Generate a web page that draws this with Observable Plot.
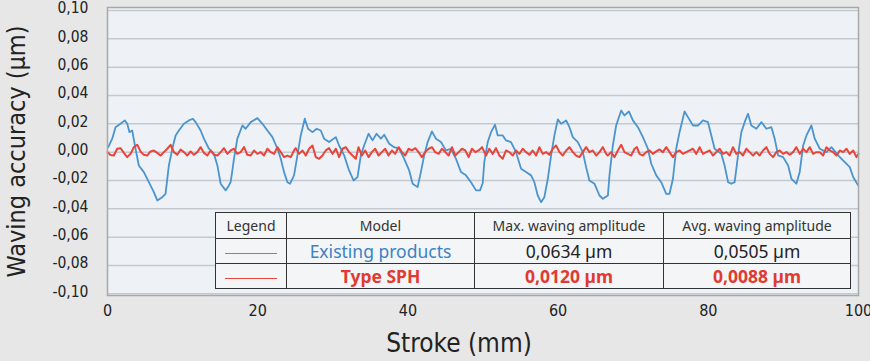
<!DOCTYPE html>
<html><head><meta charset="utf-8">
<script src="https://cdn.jsdelivr.net/npm/d3@7"></script>
<script src="https://cdn.jsdelivr.net/npm/@observablehq/plot@0.6"></script>
<style>
html,body{margin:0;padding:0;background:#e7e7e7;}
#wrap{position:relative;width:870px;height:361px;overflow:hidden;}
#leg{position:absolute;left:215px;top:212px;width:635px;border-collapse:collapse;table-layout:fixed;background:#f3f5f7;font-family:"Noto Sans",sans-serif;color:#222;}
#leg td{border:1.5px solid #333;text-align:center;padding:0;white-space:nowrap;overflow:hidden;}
#leg tr.h td{height:25px;font-size:14px;color:#333;}
#leg tr.r td{height:23px;font-size:17.5px;}
.sw{display:inline-block;width:52px;height:1.5px;vertical-align:middle;}
</style>
</head><body>
<div id="wrap"></div>
<script>
// ---- Data ----
const xTicks = [0, 20, 40, 60, 80, 100];
const yTicks = [-0.10, -0.08, -0.06, -0.04, -0.02, 0.00, 0.02, 0.04, 0.06, 0.08, 0.10];

const blueX = [0.1,0.63,1.07,1.73,2.31,2.63,2.93,3.29,3.73,4.17,4.84,5.51,6.17,6.63,7.29,7.73,8.17,8.63,9.07,9.51,10.17,10.84,11.37,11.73,12.4,12.84,13.51,14.17,14.63,15.07,15.73,16.17,16.4,16.63,16.84,17.29,17.96,18.4,19.07,19.96,20.63,21.29,21.96,22.63,23.07,23.51,23.96,24.31,24.84,25.29,25.73,26.27,26.71,27.29,27.87,28.4,28.84,29.51,30.4,30.84,31.51,32.17,32.76,33.29,33.73,34.17,34.76,35.29,35.83,36.4,36.84,37.51,38.17,38.84,39.51,40.17,40.63,41.29,41.73,42.17,42.63,43.2,43.73,44.4,45.07,45.73,46.4,47.07,47.73,48.4,49.07,49.6,49.96,50.17,50.63,51.07,51.6,51.96,52.63,53.07,53.73,54.4,55.07,55.73,56.4,56.84,57.29,57.73,58.17,58.63,59.07,59.51,59.96,60.4,61.07,61.51,61.96,62.63,63.29,63.73,64.17,64.84,65.51,65.96,66.63,66.84,67.29,67.73,68.4,68.84,69.43,69.96,70.63,71.29,71.96,72.4,73.07,73.73,74.4,74.84,75.29,75.73,76.17,76.84,77.29,77.96,78.63,79.29,79.96,80.4,80.84,81.73,82.17,82.63,83.07,83.51,83.96,84.4,84.93,85.29,85.73,86.4,87.07,87.73,88.4,88.84,89.29,89.96,90.63,91.07,91.73,92.17,92.63,93.07,93.73,94.17,94.84,95.73,96.4,97.29,98.17,98.84,99.29,99.96];
const blueY = [0.0035,0.0095,0.0176,0.020,0.0224,0.020,0.0141,0.0153,0.0024,-0.0094,-0.0141,-0.0212,-0.0282,-0.0341,-0.0318,-0.0294,-0.0094,0.0024,0.0118,0.0153,0.020,0.0224,0.0236,0.0212,0.0153,0.0095,0.0024,-0.0011,-0.0094,-0.0223,-0.027,-0.0235,-0.021,-0.0129,-0.0047,0.0095,0.0188,0.0165,0.0212,0.024,0.020,0.0153,0.0106,0.0024,-0.0047,-0.0141,-0.0212,-0.0223,-0.0164,-0.0023,0.0118,0.0236,0.0165,0.0141,0.0165,0.0153,0.0095,0.0071,0.0106,0.0047,-0.0023,-0.0129,-0.020,-0.0176,-0.0023,0.0047,0.013,0.0083,0.013,0.0095,0.0123,0.0059,0.0035,0.0024,-0.0047,-0.0129,-0.0223,-0.0247,-0.0141,-0.0023,0.0071,0.0146,0.0095,0.0071,0.0012,0.0024,-0.0047,-0.0141,-0.0164,-0.0212,-0.027,-0.027,-0.022,-0.0071,0.0071,0.0141,0.0193,0.0118,0.0118,0.0083,0.0071,0.0,-0.0117,-0.0141,-0.0164,-0.0212,-0.0306,-0.0353,-0.0318,-0.0188,-0.0023,0.0118,0.0231,0.020,0.0224,0.0176,0.0106,0.0071,0.0,-0.0106,-0.020,-0.0223,-0.0306,-0.0329,-0.0306,-0.0164,0.0047,0.0188,0.0294,0.0259,0.0287,0.0224,0.0176,0.0106,0.0024,-0.0082,-0.0164,-0.0212,-0.0294,-0.0294,-0.0188,0.0024,0.0141,0.0287,0.0247,0.0188,0.0188,0.0224,0.0212,0.0118,0.0024,-0.0011,-0.0094,-0.0212,-0.0223,-0.0212,-0.0023,0.0141,0.0224,0.0271,0.0188,0.0165,0.0212,0.0165,0.0176,0.0095,-0.0023,-0.0035,-0.0094,-0.0188,-0.0223,-0.0141,0.0047,0.0118,0.0188,0.0095,0.0024,0.0,0.0035,-0.0023,-0.0071,-0.0106,-0.0176,-0.0235];

const redX = [0,0.4,0.84,1.29,1.73,2.18,2.62,3.07,3.51,3.96,4.4,4.84,5.29,5.73,6.18,6.62,7.07,7.51,7.96,8.4,8.84,9.29,9.73,10.18,10.62,11.07,11.51,11.96,12.4,12.84,13.29,13.73,14.18,14.62,15.07,15.51,15.96,16.4,16.84,17.29,17.73,18.18,18.62,19.07,19.51,19.96,20.4,20.84,21.29,21.73,22.18,22.62,23.07,23.51,23.96,24.4,24.84,25.07,25.51,25.96,26.4,26.84,27.29,27.73,28.18,28.62,29.07,29.51,29.96,30.4,30.84,31.29,31.73,32.18,32.62,33.07,33.42,33.87,34.31,34.76,35.2,35.64,36.09,36.53,36.98,37.42,37.87,38.31,38.76,39.2,39.64,40.09,40.53,40.98,41.42,41.87,42.31,42.76,43.2,43.64,44.09,44.53,44.98,45.42,45.87,46.31,46.76,47.2,47.64,48.09,48.53,48.98,49.42,49.87,50.4,50.84,51.29,51.73,52.18,52.62,53.07,53.51,53.96,54.4,54.84,55.29,55.73,56.18,56.62,57.07,57.51,57.96,58.4,58.84,59.29,59.73,60.18,60.62,61.07,61.51,61.96,62.4,62.84,63.29,63.73,64.18,64.62,65.07,65.51,65.96,66.4,66.62,67.07,67.51,67.96,68.4,68.84,69.29,69.73,70.18,70.49,70.84,71.29,71.73,72.18,72.62,73.07,73.51,73.96,74.4,74.84,75.29,75.73,76.18,76.62,77.07,77.51,77.96,78.4,78.84,79.29,79.73,80.18,80.62,81.07,81.51,81.96,82.4,82.84,83.29,83.73,84.18,84.62,85.07,85.51,85.96,86.4,86.84,87.29,87.73,88.18,88.62,89.07,89.51,89.96,90.4,90.84,91.29,91.73,92.18,92.62,93.07,93.51,93.96,94.4,94.84,95.29,95.73,96.18,96.62,97.07,97.51,97.96,98.4,98.84,99.29,99.73,100];
const redY = [0,-0.002,-0.0024,0.0024,0.0028,-0.0005,-0.0035,-0.0012,0.0035,0.0052,0.0005,-0.0019,-0.0024,0.0005,0.0012,-0.0005,-0.0024,0,0.0024,0.0052,0,-0.0019,0.0019,0,-0.0024,0.0005,-0.0019,0,0.0035,-0.0005,-0.0024,0.0012,-0.0019,-0.0024,0,0.0028,-0.0012,0.0012,0.0024,-0.0012,0,0.0035,-0.0019,-0.0024,0.0012,-0.0012,0,-0.0024,0.0024,0,-0.0012,0.0035,0,-0.0035,-0.0024,-0.0035,0.0012,0.0028,-0.0012,0.0012,-0.0024,0.0024,0.0047,-0.0035,-0.0047,-0.0024,0.0012,0.0028,-0.0012,0.0024,-0.0035,0.0024,0.0035,0,-0.0024,-0.0047,0.0035,-0.0024,0.0012,-0.0035,0,0.0024,-0.0024,0,0.0024,-0.0024,0.0012,-0.0012,0.0035,0,-0.0024,0.0024,0.0012,0.0028,0,-0.0035,0,0.0024,0.0035,0,-0.0012,0.0024,0,-0.0024,0.0035,-0.0024,0,0.0024,0.0012,-0.0035,0.0024,0,0.0012,0.0035,-0.0024,0.0024,-0.0012,0.0028,-0.0024,-0.0047,0.0012,0,-0.0024,0.0012,-0.0012,0.0024,0,-0.0019,0.0012,-0.0024,0.0035,-0.0012,0,-0.0019,0.0024,0.0047,0,-0.0024,0.0012,0.0035,0,-0.0024,-0.0035,0,0.0035,0,0.0012,-0.0024,0,0.0035,-0.0012,-0.0024,0,-0.0035,0.0012,0.0052,0,-0.0012,-0.0024,0.0024,0.0035,-0.0012,-0.0024,0,0.0012,-0.0012,0.0005,0.0019,0,0.0035,0,-0.0035,0,0.0012,-0.0012,0,0.0012,0.0024,-0.0012,0.0035,-0.0012,0,0.0012,-0.0024,0,0.0024,-0.0012,0,-0.0024,0.0035,-0.0012,0,-0.0024,0.0024,0,-0.0024,0,-0.0024,0.0012,0.0035,-0.0012,-0.0035,0,0.0012,-0.0012,0,-0.0019,0,0.0035,-0.0012,0.0024,0,0.0035,-0.0012,0,0,-0.0024,0.0035,0.0012,0,-0.0024,0.0012,0,0.0024,-0.0012,0.0012,-0.0035,-0.0012];

// Legend table content
const tableHeader = ["Legend", "Model", "Max. waving amplitude", "Avg. waving amplitude"];
const models = ["Existing products", "Type SPH"];
const maxAmp = ["0,0634 µm", "0,0120 µm"];
const avgAmp = ["0,0505 µm", "0,0088 µm"];
const seriesColors = ["#4a94cf", "#e8443a"];
const textColors = [["#3b82c4", "#222"], ["#e23a30", "#e23a30"]];
const boldRows = [false, true];

const xLabel = "Stroke (mm)";
const yLabel = "Waving accuracy (µm)";

// ---- Build ----
const blue = blueX.map((x, i) => ({x, y: blueY[i]}));
const red = redX.map((x, i) => ({x, y: redY[i]}));
const fmt = d => d.toFixed(2).replace(".", ",");
const titleFont = "'DejaVu Sans Condensed', 'DejaVu Sans', sans-serif";

const chart = Plot.plot({
  width: 870, height: 361,
  marginLeft: 107, marginRight: 12, marginTop: 7, marginBottom: 66,
  style: {background: "transparent", fontFamily: "'DejaVu Sans Condensed', 'DejaVu Sans', sans-serif", color: "#222"},
  x: {domain: [0, 100]},
  y: {domain: [-0.1012, 0.1021]},
  marks: [
    Plot.frame({fill: "#eef2f6", stroke: null}),
    Plot.gridY(yTicks, {stroke: "#c4c9cf", strokeOpacity: 1, strokeWidth: 1.5}),
    Plot.line(blue, {x: "x", y: "y", stroke: seriesColors[0], strokeWidth: 1.8}),
    Plot.line(red, {x: "x", y: "y", stroke: seriesColors[1], strokeWidth: 2}),
    Plot.frame({stroke: "#a8a8a8", strokeWidth: 1.5}),
    Plot.axisY(yTicks, {tickSize: 0, tickPadding: 19, fontSize: 15.5, tickFormat: fmt, label: null, dy: -2}),
    Plot.axisY({ticks: [], tickSize: 0, label: yLabel, labelAnchor: "center", labelOffset: 100, labelArrow: "none", fontSize: 25, fontFamily: titleFont}),
    Plot.axisX(xTicks, {tickSize: 0, tickPadding: 9, fontSize: 16, label: null}),
    Plot.text([xLabel], {text: d => d, frameAnchor: "bottom", lineAnchor: "middle", textAnchor: "middle", dy: 48, dx: -24, fontSize: 26, fontFamily: titleFont, fill: "#222"})
  ]
});
const wrap = document.getElementById("wrap");
wrap.appendChild(chart);

// Legend table overlay
const table = document.createElement("table");
table.id = "leg";
const colW = [71, 188, 189, 187];
const cg = document.createElement("colgroup");
colW.forEach(w => { const c = document.createElement("col"); c.style.width = w + "px"; cg.appendChild(c); });
table.appendChild(cg);
const hr = document.createElement("tr"); hr.className = "h";
tableHeader.forEach(t => { const td = document.createElement("td"); td.textContent = t; hr.appendChild(td); });
table.appendChild(hr);
models.forEach((m, i) => {
  const tr = document.createElement("tr"); tr.className = "r";
  const td0 = document.createElement("td");
  const sw = document.createElement("span"); sw.className = "sw"; sw.style.background = seriesColors[i];
  td0.appendChild(sw); tr.appendChild(td0);
  [m, maxAmp[i], avgAmp[i]].forEach((t, j) => {
    const td = document.createElement("td"); td.textContent = t;
    td.style.color = j === 0 ? textColors[i][0] : textColors[i][1];
    if (boldRows[i]) td.style.fontWeight = "bold";
    tr.appendChild(td);
  });
  table.appendChild(tr);
});
wrap.appendChild(table);
</script>
</body></html>
